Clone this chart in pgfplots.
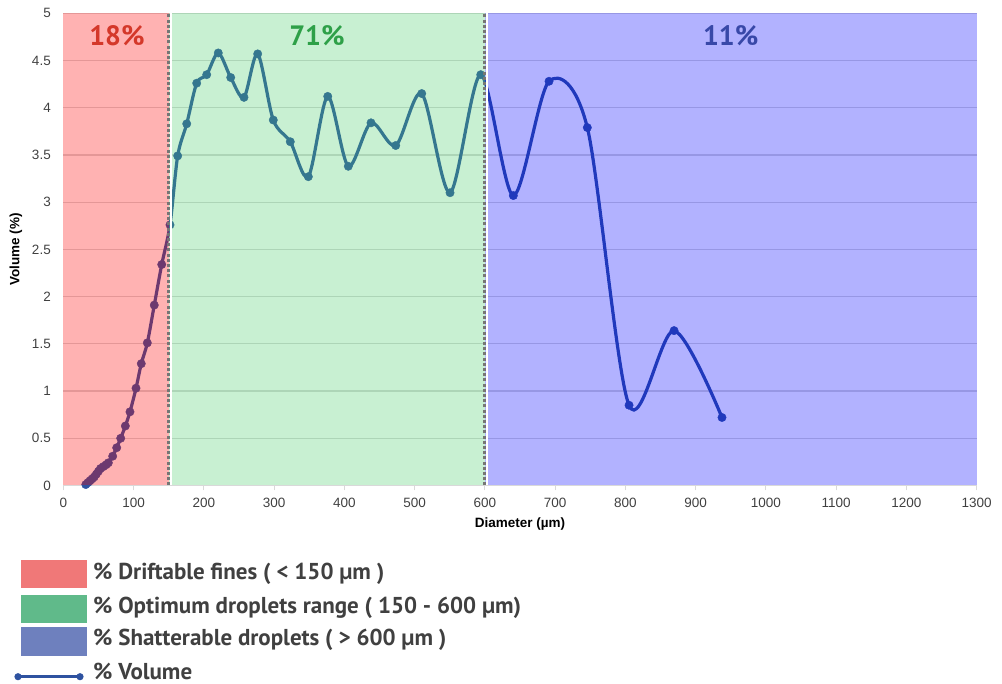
\documentclass[border=0pt]{standalone}
\usepackage{fontspec}
\setmainfont{Liberation Sans}
\newfontfamily\legfont{PT Sans}
\usepackage{pgfplots}
\pgfplotsset{compat=1.18}

\definecolor{lineblue}{RGB}{46,82,160}
\definecolor{gridgray}{RGB}{217,217,217}
\definecolor{tickgray}{RGB}{64,64,64}
\definecolor{ovgreen}{RGB}{72,205,105}
\definecolor{legred}{RGB}{240,120,120}
\definecolor{leggreen}{RGB}{96,186,138}
\definecolor{legblue}{RGB}{110,128,190}
\definecolor{pctred}{RGB}{212,56,42}
\definecolor{pctgreen}{RGB}{46,160,72}
\definecolor{pctblue}{RGB}{56,72,168}
\definecolor{dotgray}{RGB}{118,118,118}
\definecolor{legtext}{RGB}{64,64,64}

% diameter (um) vs volume (%)
\pgfplotstableread{
x y
32 0.01
35 0.03
38 0.05
41 0.07
44 0.09
47 0.12
50 0.15
53 0.18
57 0.20
61 0.22
64.1 0.24
70.3 0.31
76.0 0.40
81.7 0.50
88.3 0.63
94.9 0.78
103.5 1.03
111.0 1.29
119.6 1.51
129.5 1.91
140.1 2.34
151.9 2.76
162.8 3.49
175.7 3.83
189.9 4.26
204.1 4.35
220.6 4.58
238.3 4.32
257.2 4.11
276.7 4.57
298.9 3.87
323.1 3.64
348.8 3.27
376.4 4.12
405.7 3.38
438.0 3.84
473.2 3.60
510.2 4.15
550.5 3.10
594.2 4.35
640.6 3.07
691.4 4.28
745.9 3.79
805.3 0.85
869.4 1.64
937.6 0.72
}\voldata

\begin{document}
\begin{tikzpicture}
\useasboundingbox (0pt,0pt) rectangle (1002pt,684pt);
\begin{axis}[
  at={(63.3pt,198.5pt)}, anchor=south west,
  scale only axis, width=913.3pt, height=472.2pt,
  xmin=0, xmax=1300, ymin=0, ymax=5,
  xtick={0,100,...,1300}, ytick={0,0.5,...,5},
  clip=false, clip marker paths=true,
  axis x line*=bottom, axis y line*=left,
  x axis line style={draw=gridgray, line width=1pt, -},
  y axis line style={draw=none},
  ymajorgrids, grid style={gridgray, line width=1.2pt},
  xtick align=outside, major tick length=5pt,
  xtick style={gridgray, line width=1pt},
  ytick style={draw=none},
  /pgf/number format/assume math mode=true,
  /pgf/number format/1000 sep={},
  tick label style={font=\fontsize{13.5}{16}\selectfont, text=tickgray},
  xticklabel style={yshift=-4pt},
  yticklabel style={xshift=-9pt},
  every axis x label/.style={at={(axis description cs:0.5,0)}, anchor=center, yshift=-38.5pt},
  every axis y label/.style={at={(axis description cs:0,0.5)}, xshift=-47.3pt, rotate=90, anchor=center},
  label style={font=\bfseries\fontsize{13.5}{16}\selectfont},
  xlabel={Diameter (µm)},
  ylabel={Volume (\%)},
]
\addplot[lineblue, line width=3.2pt, smooth, mark=*, mark size=4.2pt,
  mark options={solid, fill=lineblue, draw=lineblue, line width=0.4pt}] table {\voldata};

\addplot[draw=none, fill=red, fill opacity=0.3] coordinates {(0,5) (150,5)} \closedcycle;
\addplot[draw=none, fill=ovgreen, fill opacity=0.3] coordinates {(150,5) (600,5)} \closedcycle;
\addplot[draw=none, fill=blue, fill opacity=0.3] coordinates {(600,5) (1300,5)} \closedcycle;

\draw[white, line width=1.5pt] ([xshift=2.2pt]axis cs:150,0) -- ([xshift=2.2pt]axis cs:150,5);
\draw[dotgray, line width=3pt, dash pattern=on 3pt off 2.2pt] (axis cs:150,0) -- (axis cs:150,5);
\draw[white, line width=1.5pt] ([xshift=2.2pt]axis cs:600,0) -- ([xshift=2.2pt]axis cs:600,5);
\draw[dotgray, line width=3pt, dash pattern=on 3pt off 2.2pt] (axis cs:600,0) -- (axis cs:600,5);

\node[anchor=base, text=pctred, font=\legfont\bfseries\fontsize{28}{30}\selectfont] at (axis cs:76.4,4.664) {18\%};
\node[anchor=base, text=pctgreen, font=\legfont\bfseries\fontsize{28}{30}\selectfont] at (axis cs:361,4.664) {71\%};
\node[anchor=base, text=pctblue, font=\legfont\bfseries\fontsize{28}{30}\selectfont] at (axis cs:950,4.664) {11\%};
\end{axis}

% legend
\fill[legred] (20.7pt,95.7pt) rectangle (86.7pt,124pt);
\fill[leggreen] (20.7pt,60.7pt) rectangle (86.7pt,88.7pt);
\fill[legblue] (20.7pt,28.3pt) rectangle (86.7pt,57pt);
\draw[lineblue, line width=2.5pt] (18pt,7.3pt) -- (80pt,7.3pt);
\fill[lineblue] (18pt,7.3pt) circle (3.6pt);
\fill[lineblue] (80pt,7.3pt) circle (3.6pt);
\begin{scope}[every node/.style={anchor=base west, inner sep=0pt, text=legtext, font=\legfont\bfseries\fontsize{23}{26}\selectfont}]
\node at (93pt,104.7pt) {\% Driftable fines ( < 150 µm )};
\node at (93pt,70pt) {\% Optimum droplets range ( 150 - 600 µm)};
\node at (93pt,38pt) {\% Shatterable droplets ( > 600 µm )};
\node at (93pt,4.7pt) {\% Volume};
\end{scope}
\end{tikzpicture}
\end{document}
